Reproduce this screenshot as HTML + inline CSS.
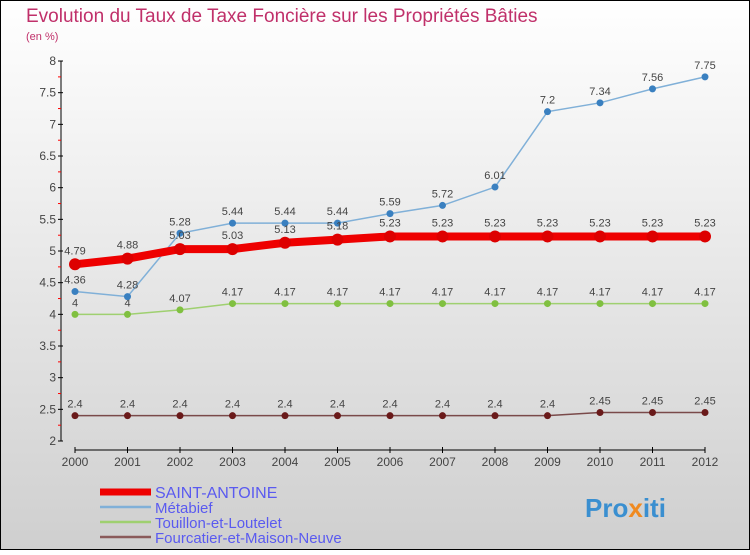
<!DOCTYPE html>
<html><head><meta charset="utf-8"><style>
body{margin:0}
#c{width:750px;height:550px;position:relative;font-family:"Liberation Sans",sans-serif}
</style></head><body>
<div id="c">
<svg id="s" width="750" height="550" xmlns="http://www.w3.org/2000/svg">
<defs><linearGradient id="bg" x1="0" y1="0" x2="0" y2="1"><stop offset="0" stop-color="#ffffff"/><stop offset="1" stop-color="#cfcfcf"/></linearGradient></defs>
<rect x="0.5" y="0.5" width="749" height="549" fill="url(#bg)" stroke="#000"/>
<text x="26" y="22" font-size="19" fill="#c0306a">Evolution du Taux de Taxe Foncière sur les Propriétés Bâties</text>
<text x="26" y="40" font-size="11" fill="#c0306a">(en %)</text>
<g id="axes"></g><g id="series"></g><g id="legend"></g>
<text x="585" y="517" font-size="26" font-weight="bold" fill="#3a8fd0">Pro<tspan fill="#f08a20">x</tspan>iti</text>
</svg></div>
<script>
const years=["2000","2001","2002","2003","2004","2005","2006","2007","2008","2009","2010","2011","2012"];
const yTicks=[2,2.5,3,3.5,4,4.5,5,5.5,6,6.5,7,7.5,8];
const saint=[4.79,4.88,5.03,5.03,5.13,5.18,5.23,5.23,5.23,5.23,5.23,5.23,5.23];
const metabief=[4.36,4.28,5.28,5.44,5.44,5.44,5.59,5.72,6.01,7.2,7.34,7.56,7.75];
const touillon=[4,4,4.07,4.17,4.17,4.17,4.17,4.17,4.17,4.17,4.17,4.17,4.17];
const fourcatier=[2.4,2.4,2.4,2.4,2.4,2.4,2.4,2.4,2.4,2.4,2.45,2.45,2.45];
const seriesNames=["SAINT-ANTOINE","Métabief","Touillon-et-Loutelet","Fourcatier-et-Maison-Neuve"];
const NS="http://www.w3.org/2000/svg";
const X=i=>75+i*52.5, Y=v=>441-(v-2)*63.33;
function mk(p,t,a){const e=document.createElementNS(NS,t);for(const k in a)e.setAttribute(k,a[k]);p.appendChild(e);return e;}
const ax=document.getElementById('axes');
let l=mk(ax,'line',{x1:61,y1:Y(8),x2:61,y2:Y(2),stroke:'#000'});


l=mk(ax,'line',{x1:75,y1:450,x2:705,y2:450,stroke:'#000'});


yTicks.forEach((v,i)=>{
 const y=Y(v);
 mk(ax,'line',{x1:58,y1:y,x2:63,y2:y,stroke:'#000'});
 if(i<yTicks.length-1)mk(ax,'line',{x1:58,y1:y-15.8,x2:61,y2:y-15.8,stroke:'#f00'});
 const t=mk(ax,'text',{x:56,y:y+4,'text-anchor':'end','font-size':12,fill:'#444'});
 t.textContent=String(v);
 
 
});
years.forEach((yr,i)=>{
 mk(ax,'line',{x1:X(i),y1:447,x2:X(i),y2:453,stroke:'#000'});
 const t=mk(ax,'text',{x:X(i),y:466,'text-anchor':'middle','font-size':12,fill:'#444'});
 t.textContent=yr;
 
 
});
const sg=document.getElementById('series');
function draw(vals,color,w,r,dot,name,labelDy){
 const g=mk(sg,'g',{});
 
 
 mk(g,'polyline',{points:vals.map((v,i)=>X(i)+','+Y(v)).join(' '),fill:'none',stroke:color,'stroke-width':w});
 vals.forEach((v,i)=>{
  const c=mk(g,'circle',{cx:X(i),cy:Y(v),r:r,fill:dot});
  
  
  const t=mk(g,'text',{x:X(i),y:Y(v)+labelDy,'text-anchor':'middle','font-size':11,fill:'#444'});
  t.textContent=String(v);
  
  
 });
}
draw(fourcatier,'#7a4a4a',1.5,3.5,'#6a1a1a','series-fourcatier',-8);
draw(touillon,'#9fd070',1.5,3.5,'#80c040','series-touillon',-8);
draw(metabief,'#80b0d8',1.5,3.5,'#3a80c0','series-metabief',-8);
draw(saint,'#ee0000',8,6,'#dd0000','series-saint-antoine',-10);
const lg=document.getElementById('legend');
const cols=['#ee0000','#80b0d8','#9fd070','#8a5a5a'],ws=[7,2.5,2.5,2.5];
seriesNames.forEach((n,i)=>{
 const y=492+i*15;
 const g=mk(lg,'g',{});
 
 
 mk(g,'line',{x1:100,y1:y,x2:151,y2:y,stroke:cols[i],'stroke-width':ws[i]});
 const t=mk(g,'text',{x:155,y:y+6,'font-size':i==0?16:15,fill:'#5a5af0'});
 t.textContent=n;
});
</script>
</body></html>
